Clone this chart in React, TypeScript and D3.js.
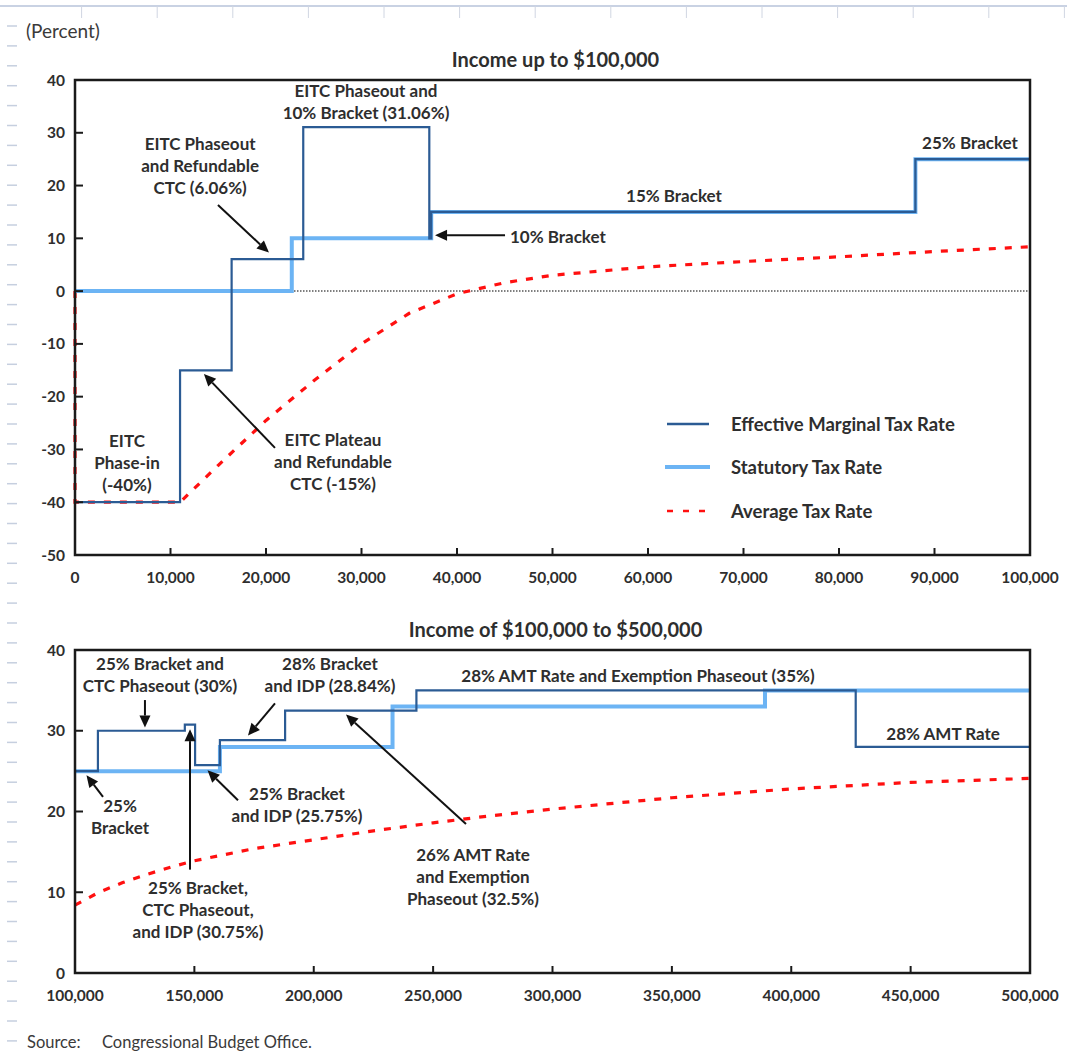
import React from "react";
import * as d3 from "d3";

// ---------- DATA ----------
// Top panel (income up to $100,000)
const effTopX = [0, 11000, 16400, 23900, 37100, 37300, 88000, 100000];
const effTopY = [-40, -15, 6.06, 31.06, 10, 15, 25];
const statTopX = [0, 22700, 37300, 88000, 100000];
const statTopY = [0, 10, 15, 25];
const avgTopX = [0, 0, 11000, 15000, 20000, 25000, 30000, 35000, 40000, 45000, 50000, 60000, 70000, 80000, 90000, 100000];
const avgTopY = [0, -40, -40, -33, -24.5, -17, -10, -4.2, -0.5, 1.6, 3.0, 4.6, 5.6, 6.5, 7.5, 8.4];
const topXTicks = [0, 10000, 20000, 30000, 40000, 50000, 60000, 70000, 80000, 90000, 100000];
const topYTicks = [40, 30, 20, 10, 0, -10, -20, -30, -40, -50];

// Bottom panel (income of $100,000 to $500,000)
const effBotX = [100000, 109600, 146000, 150300, 160700, 188000, 243000, 427000, 500000];
const effBotY = [25, 30, 30.75, 25.75, 28.84, 32.5, 35, 28];
const statBotX = [100000, 160700, 233000, 389000, 500000];
const statBotY = [25, 28, 33, 35];
const avgBotX = [100000, 110000, 120000, 130000, 140000, 150000, 175000, 200000, 225000, 250000, 275000, 300000, 350000, 400000, 450000, 500000];
const avgBotY = [8.4, 10.0, 11.2, 12.2, 13.1, 13.9, 15.4, 16.5, 17.6, 18.6, 19.5, 20.3, 21.7, 22.8, 23.6, 24.1];
const botXTicks = [100000, 150000, 200000, 250000, 300000, 350000, 400000, 450000, 500000];
const botYTicks = [40, 30, 20, 10, 0];

const legendLabels = ["Effective Marginal Tax Rate", "Statutory Tax Rate", "Average Tax Rate"];

// annotations: [x, y(first baseline) in data units, lines]
const topNotes: [number, number, string[]][] = [
  [13100, 26.7, ["EITC Phaseout", "and Refundable", "CTC (6.06%)"]],
  [30470, 36.8, ["EITC Phaseout and", "10% Bracket (31.06%)"]],
  [62720, 16.9, ["15% Bracket"]],
  [93720, 26.9, ["25% Bracket"]],
  [5445, -29.5, ["EITC", "Phase-in", "(-40%)"]],
  [27015, -29.3, ["EITC Plateau", "and Refundable", "CTC (-15%)"]],
];
const topLeftNotes: [number, number, string][] = [[45550, 9.2, "10% Bracket"]];
const topArrows: [number, number, number, number][] = [
  [14970, 16.3, 20310, 7.3],
  [45030, 10.6, 37700, 10.6],
  [20940, -29.7, 13500, -15.7],
];
const botNotes: [number, number, string[]][] = [
  [135600, 37.5, ["25% Bracket and", "CTC Phaseout (30%)"]],
  [118850, 20.0, ["25%", "Bracket"]],
  [206800, 37.5, ["28% Bracket", "and IDP (28.84%)"]],
  [193000, 21.4, ["25% Bracket", "and IDP (25.75%)"]],
  [151500, 9.8, ["25% Bracket,", "CTC Phaseout,", "and IDP (30.75%)"]],
  [266700, 13.9, ["26% AMT Rate", "and Exemption", "Phaseout (32.5%)"]],
  [335800, 36.0, ["28% AMT Rate and Exemption Phaseout (35%)"]],
  [463600, 28.85, ["28% AMT Rate"]],
];
const botArrows: [number, number, number, number][] = [
  [129300, 33.8, 129300, 30.4],
  [111730, 21.8, 104800, 24.5],
  [183770, 33.4, 172460, 29.4],
  [168270, 21.4, 155500, 25.1],
  [148170, 12.8, 148170, 30.2],
  [263770, 18.45, 213500, 32.0],
];

// ---------- STYLE ----------
const FONT = "Lato, 'Open Sans', sans-serif";
const TXT = "#2e2e2e";
const DARK = "#2b5b94";
const LIGHT = "#6cb4f4";
const RED = "#ff1010";
const NOTE_SIZE = 17;

const L = 75, R = 1030;

function stepPts(xs: number[], ys: number[]): [number, number][] {
  const pts: [number, number][] = xs.slice(0, -1).map((x, i) => [x, ys[i]]);
  pts.push([xs[xs.length - 1], ys[ys.length - 1]]);
  return pts;
}

function Arrow({ x1, y1, x2, y2 }: { x1: number; y1: number; x2: number; y2: number }) {
  const a = Math.atan2(y2 - y1, x2 - x1);
  const len = 12, w = 5.5;
  const bx = x2 - len * Math.cos(a), by = y2 - len * Math.sin(a);
  const px = -Math.sin(a), py = Math.cos(a);
  return (
    <g>
      <line x1={x1} y1={y1} x2={bx} y2={by} stroke="#111" strokeWidth={2} />
      <polygon points={`${x2},${y2} ${bx + px * w},${by + py * w} ${bx - px * w},${by - py * w}`} fill="#111" />
    </g>
  );
}

function Panel(props: {
  top: number; bottom: number; xDom: [number, number]; yDom: [number, number];
  xTicks: number[]; yTicks: number[]; eff: [number, number][]; stat: [number, number][];
  avg: [number, number][]; zero: boolean; notes: [number, number, string[]][];
  leftNotes: [number, number, string][]; arrows: [number, number, number, number][]; title: string;
}) {
  const { top, bottom, xDom, yDom } = props;
  const x = d3.scaleLinear().domain(xDom).range([L, R]);
  const y = d3.scaleLinear().domain(yDom).range([bottom, top]);
  const step = d3.line<[number, number]>().x(d => x(d[0])).y(d => y(d[1])).curve(d3.curveStepAfter);
  const lin = d3.line<[number, number]>().x(d => x(d[0])).y(d => y(d[1])).curve(d3.curveLinear);
  const fmt = d3.format(",");
  return (
    <g>
      <text x={(L + R) / 2 + 3} y={top - 13} textAnchor="middle" fontFamily={FONT} fontWeight={700} fontSize={20} fill={TXT}>{props.title}</text>
      {props.zero && (
        <line x1={L} x2={R} y1={y(0)} y2={y(0)} stroke="#555" strokeWidth={1.5} strokeDasharray="1.5,1.5" />
      )}
      <path d={lin(props.avg) || ""} fill="none" stroke={RED} strokeWidth={3.2} strokeDasharray="7,9" />
      <path d={step(props.stat) || ""} fill="none" stroke={LIGHT} strokeWidth={4} />
      <path d={step(props.eff) || ""} fill="none" stroke={DARK} strokeWidth={2.2} />
      <rect x={L} y={top} width={R - L} height={bottom - top} fill="none" stroke="#1a1a1a" strokeWidth={2.5} />
      {props.xTicks.map((t, i) => (
        <g key={"xt" + i}>
          {i > 0 && i < props.xTicks.length - 1 && (
            <line x1={x(t)} x2={x(t)} y1={bottom} y2={bottom - 7} stroke="#1a1a1a" strokeWidth={2} />
          )}
          <text x={x(t)} y={bottom + 28} textAnchor="middle" fontFamily={FONT} fontWeight={700} fontSize={15.5} fill={TXT}>{fmt(t)}</text>
        </g>
      ))}
      {props.yTicks.map((t, i) => (
        <g key={"yt" + i}>
          {i > 0 && i < props.yTicks.length - 1 && (
            <line x1={L} x2={L + 8} y1={y(t)} y2={y(t)} stroke="#1a1a1a" strokeWidth={2} />
          )}
          <text x={L - 10} y={y(t) + 5.5} textAnchor="end" fontFamily={FONT} fontWeight={700} fontSize={15.5} fill={TXT}>{t}</text>
        </g>
      ))}
      {props.notes.map(([nx, ny, lines], i) => (
        <text key={"n" + i} textAnchor="middle" fontFamily={FONT} fontWeight={700} fontSize={NOTE_SIZE} fill={TXT}>
          {lines.map((s, j) => (
            <tspan key={j} x={x(nx)} y={y(ny) + j * 22}>{s}</tspan>
          ))}
        </text>
      ))}
      {props.leftNotes.map(([nx, ny, s], i) => (
        <text key={"ln" + i} x={x(nx)} y={y(ny)} fontFamily={FONT} fontWeight={700} fontSize={NOTE_SIZE} fill={TXT}>{s}</text>
      ))}
      {props.arrows.map(([a, b, c, d], i) => (
        <Arrow key={"a" + i} x1={x(a)} y1={y(b)} x2={x(c)} y2={y(d)} />
      ))}
    </g>
  );
}

export default function App() {
  const rulerX = d3.range(0, 14).map(i => 81.6 + i * 75.6);
  const rulerY = d3.range(0, 52).map(i => 26 + i * 19.9);
  const legendY = [424, 467, 511];
  return (
    <svg width={1067} height={1057} style={{ position: "absolute", left: 0, top: 0, background: "#fff" }}>
      <rect x={0} y={0} width={1067} height={1057} fill="#fff" />
      <line x1={0} x2={1067} y1={6} y2={6} stroke="#c9d2e3" strokeWidth={2} />
      {rulerX.map((rx, i) => (
        <line key={"rx" + i} x1={rx} x2={rx} y1={6} y2={18} stroke="#d0d6e2" strokeWidth={1} />
      ))}
      {rulerY.map((ry, i) => (
        <line key={"ry" + i} x1={7} x2={17} y1={ry} y2={ry} stroke="#c6cfdf" strokeWidth={1.5} />
      ))}
      <text x={26} y={38} fontFamily={FONT} fontSize={19} fill="#3a3a3a">(Percent)</text>

      <Panel top={80} bottom={555} xDom={[0, 100000]} yDom={[-50, 40]} xTicks={topXTicks} yTicks={topYTicks}
        eff={stepPts(effTopX, effTopY)} stat={stepPts(statTopX, statTopY)}
        avg={avgTopX.map((v, i) => [v, avgTopY[i]] as [number, number])} zero={true}
        notes={topNotes} leftNotes={topLeftNotes} arrows={topArrows} title="Income up to $100,000" />

      <line x1={667} x2={709} y1={legendY[0]} y2={legendY[0]} stroke={DARK} strokeWidth={2.5} />
      <line x1={665} x2={710} y1={legendY[1]} y2={legendY[1]} stroke={LIGHT} strokeWidth={4} />
      <line x1={667} x2={711} y1={legendY[2]} y2={legendY[2]} stroke={RED} strokeWidth={2.5} strokeDasharray="6,10" />
      {legendLabels.map((s, i) => (
        <text key={"lg" + i} x={731} y={legendY[i] + 6.5} fontFamily={FONT} fontWeight={700} fontSize={18.5} fill={TXT}>{s}</text>
      ))}

      <Panel top={650} bottom={973} xDom={[100000, 500000]} yDom={[0, 40]} xTicks={botXTicks} yTicks={botYTicks}
        eff={stepPts(effBotX, effBotY)} stat={stepPts(statBotX, statBotY)}
        avg={avgBotX.map((v, i) => [v, avgBotY[i]] as [number, number])} zero={false}
        notes={botNotes} leftNotes={[]} arrows={botArrows} title="Income of $100,000 to $500,000" />

      <text x={27} y={1048} fontFamily={FONT} fontSize={16.5} fill="#3a3a3a">Source:</text>
      <text x={102} y={1048} fontFamily={FONT} fontSize={16.5} fill="#3a3a3a">Congressional Budget Office.</text>
    </svg>
  );
}
